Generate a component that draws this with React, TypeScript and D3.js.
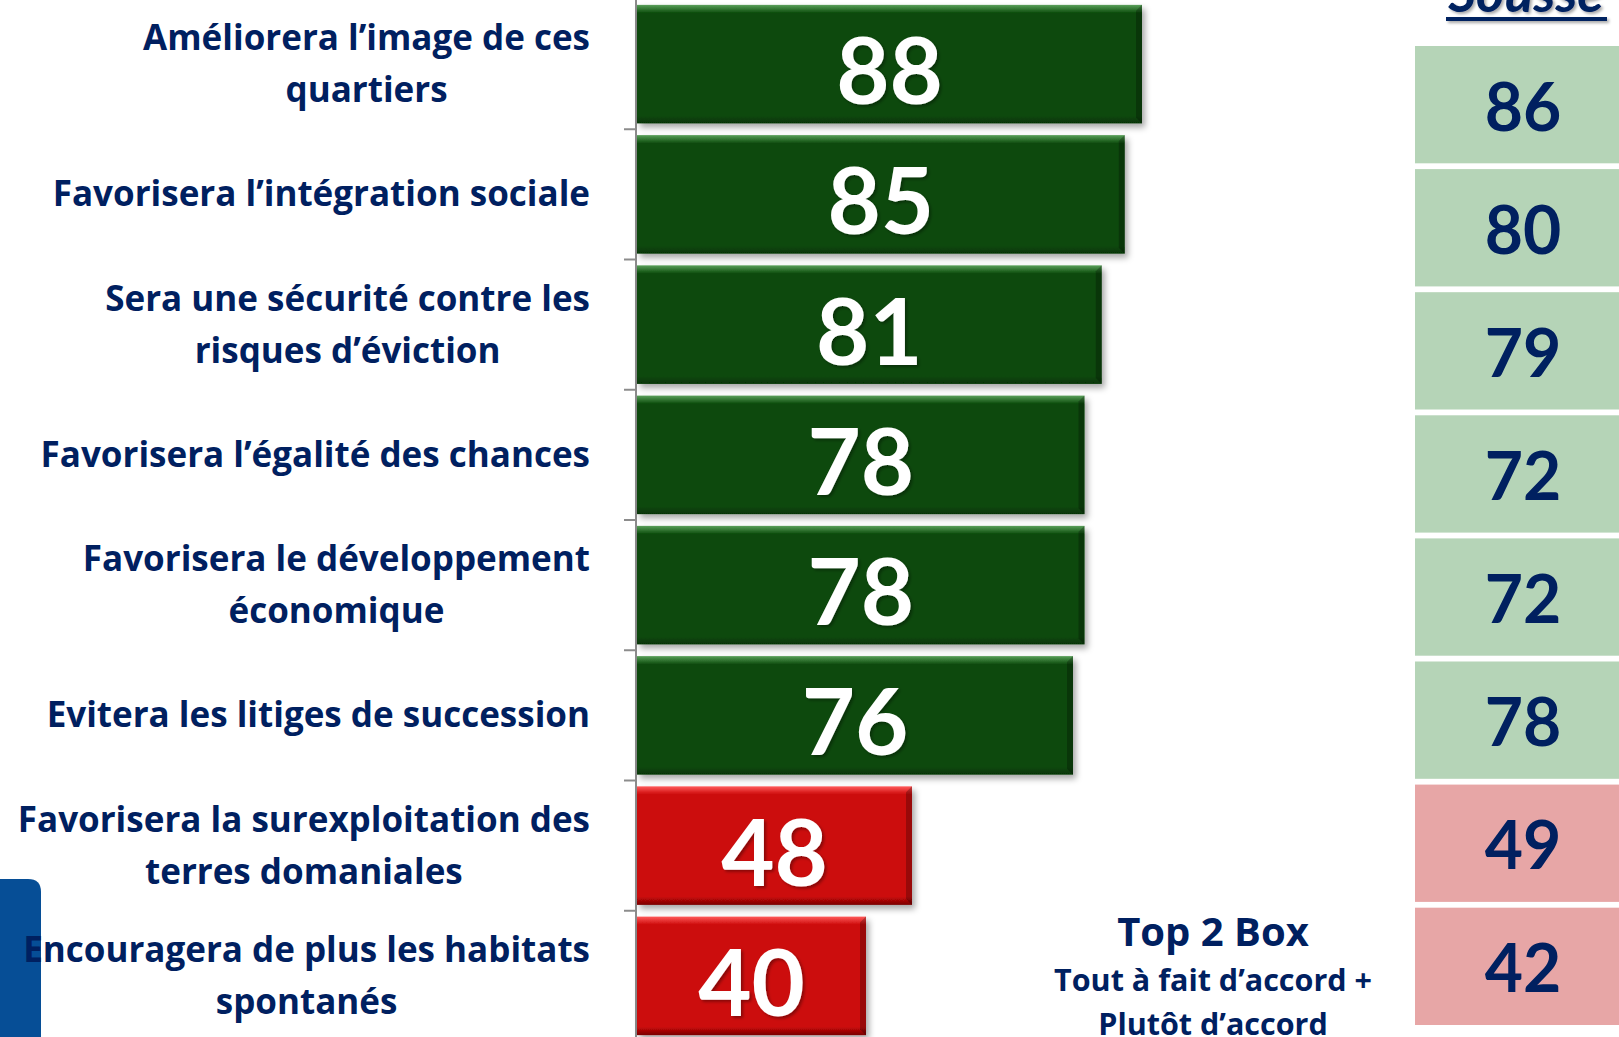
import React, { useEffect, useRef } from 'react'
import * as d3 from 'd3'

const categories = [
  "Améliorera l’image de ces\nquartiers",
  "Favorisera l’intégration sociale",
  "Sera une sécurité contre les\nrisques d’éviction",
  "Favorisera l’égalité des chances",
  "Favorisera le développement\néconomique",
  "Evitera les litiges de succession",
  "Favorisera la surexploitation des\nterres domaniales",
  "Encouragera de plus les habitats\nspontanés"
]
const top2Box = [88, 85, 81, 78, 78, 76, 48, 40]
const sousse = [86, 80, 79, 72, 72, 78, 49, 42]
const tone = ["pos", "pos", "pos", "pos", "pos", "pos", "neg", "neg"]
const noteLines = ["Top 2 Box", "Tout à fait d’accord +", "Plutôt d’accord"]

const W = 1619
const H = 1037
const navy = "#002060"
const textFont = "'Open Sans', 'Noto Sans', sans-serif"
const numFont = "Lato, 'Open Sans', sans-serif"

export default function App() {
  const svgRef = useRef<SVGSVGElement>(null)

  useEffect(() => {
    if (!svgRef.current) return
    const svg = d3.select(svgRef.current)
    svg.selectAll("*").remove()

    const defs = svg.append("defs")
    const grads: Record<string, string[]> = {
      pos: ["#5aa05a", "#0a4a0a", "#063406"],
      neg: ["#ff5a5a", "#cc0808", "#7a0404"]
    }
    Object.entries(grads).forEach(([k, c]) => {
      const g = defs.append("linearGradient").attr("id", "g-" + k)
        .attr("x1", 0).attr("y1", 0).attr("x2", 0).attr("y2", 1)
      g.append("stop").attr("offset", 0).attr("stop-color", c[0])
      g.append("stop").attr("offset", 0.07).attr("stop-color", c[1])
      g.append("stop").attr("offset", 0.93).attr("stop-color", c[1])
      g.append("stop").attr("offset", 1).attr("stop-color", c[2])
    })
    const f = defs.append("filter").attr("id", "shadow")
      .attr("x", "-5%").attr("y", "-10%").attr("width", "115%").attr("height", "130%")
    f.append("feDropShadow").attr("dx", 3).attr("dy", 4).attr("stdDeviation", 3)
      .attr("flood-color", "#000").attr("flood-opacity", 0.35)
    const ts = defs.append("filter").attr("id", "tshadow")
    ts.append("feDropShadow").attr("dx", 2).attr("dy", 2).attr("stdDeviation", 1.5)
      .attr("flood-color", "#000").attr("flood-opacity", 0.35)

    // blue tab bottom-left
    svg.append("path")
      .attr("d", `M0,879 H28 Q41,879 41,892 V${H} H0 Z`)
      .attr("fill", "#064e96")

    const x = d3.scaleLinear().domain([0, 100]).range([636, 1211])
    const y = d3.scaleBand<string>().domain(categories).range([-1, 1041])
      .paddingInner(0.09).paddingOuter(0.045)

    // axis
    const axis = svg.append("g").attr("stroke", "#8c8c8c").attr("stroke-width", 2)
    axis.append("line").attr("x1", 636).attr("x2", 636).attr("y1", 0).attr("y2", H)
    const step = y.step()
    d3.range(categories.length + 1).forEach(i => {
      const yy = -1 + i * step
      axis.append("line").attr("x1", 624).attr("x2", 636).attr("y1", yy).attr("y2", yy)
    })

    // bars
    const bars = svg.append("g")
    categories.forEach((c, i) => {
      const y0 = y(c)!
      const bw = y.bandwidth()
      const x0 = x(0) + 1
      const x1 = x(top2Box[i])
      bars.append("rect")
        .attr("x", x0).attr("y", y0).attr("width", x1 - x0).attr("height", bw)
        .attr("fill", `url(#g-${tone[i]})`).attr("filter", "url(#shadow)")
      bars.append("path")
        .attr("d", `M${x1},${y0} L${x1 - 6},${y0 + 6} L${x1 - 6},${y0 + bw - 6} L${x1},${y0 + bw} Z`)
        .attr("fill", "#000").attr("opacity", 0.25)
      bars.append("text")
        .attr("x", (x0 + x1) / 2).attr("y", y0 + bw / 2 + 40)
        .attr("text-anchor", "middle")
        .attr("font-family", numFont).attr("font-weight", 700)
        .attr("font-size", 92).attr("fill", "#fff")
        .attr("filter", "url(#tshadow)")
        .text(top2Box[i])
    })

    // category labels
    const labels = svg.append("g")
      .attr("font-family", textFont).attr("font-weight", 700)
      .attr("font-size", 35).attr("fill", navy)
    const lh = 52
    categories.forEach(c => {
      const lines = c.split("\n")
      const cy = y(c)! + y.bandwidth() / 2
      const g = labels.append("g")
      const texts = lines.map((l, j) => g.append("text")
        .attr("y", cy + (j - (lines.length - 1) / 2) * lh + 12)
        .attr("text-anchor", "middle").text(l))
      const widths = texts.map(t => (t.node() as SVGTextElement).getComputedTextLength())
      const maxW = d3.max(widths) || 0
      texts.forEach(t => t.attr("x", 590 - maxW / 2))
    })

    // Sousse column
    const yr = d3.scaleBand<string>().domain(categories).range([46, 1025]).paddingInner(0.047).paddingOuter(0)
    const right = svg.append("g")
    categories.forEach((c, i) => {
      right.append("rect")
        .attr("x", 1415).attr("y", yr(c)!).attr("width", W - 1415).attr("height", yr.bandwidth())
        .attr("fill", tone[i] === "pos" ? "#b5d4b7" : "#e7a6a6")
      right.append("text")
        .attr("x", 1523).attr("y", yr(c)! + yr.bandwidth() / 2 + 26)
        .attr("text-anchor", "middle")
        .attr("font-family", numFont).attr("font-weight", 700)
        .attr("font-size", 66).attr("fill", navy)
        .text(sousse[i])
    })

    const hdr = svg.append("g").attr("filter", "url(#tshadow)")
    hdr.append("text")
      .attr("x", 1526).attr("y", 12).attr("text-anchor", "middle")
      .attr("font-family", numFont).attr("font-weight", 700)
      .attr("font-style", "italic").attr("font-size", 54).attr("fill", navy)
      .text("Sousse")
    hdr.append("rect").attr("x", 1446).attr("y", 17).attr("width", 161).attr("height", 4).attr("fill", navy)

    // note
    const note = svg.append("g")
      .attr("font-family", textFont).attr("font-weight", 700)
      .attr("fill", navy).attr("text-anchor", "middle")
    note.append("text").attr("x", 1213).attr("y", 946).attr("font-size", 40).text(noteLines[0])
    note.append("text").attr("x", 1213).attr("y", 991).attr("font-size", 30.5).text(noteLines[1])
    note.append("text").attr("x", 1213).attr("y", 1035).attr("font-size", 30.5).text(noteLines[2])
  }, [])

  return (
    <svg ref={svgRef} width={W} height={H}
      style={{ position: 'absolute', left: 0, top: 0, display: 'block', background: '#fff' }} />
  )
}
